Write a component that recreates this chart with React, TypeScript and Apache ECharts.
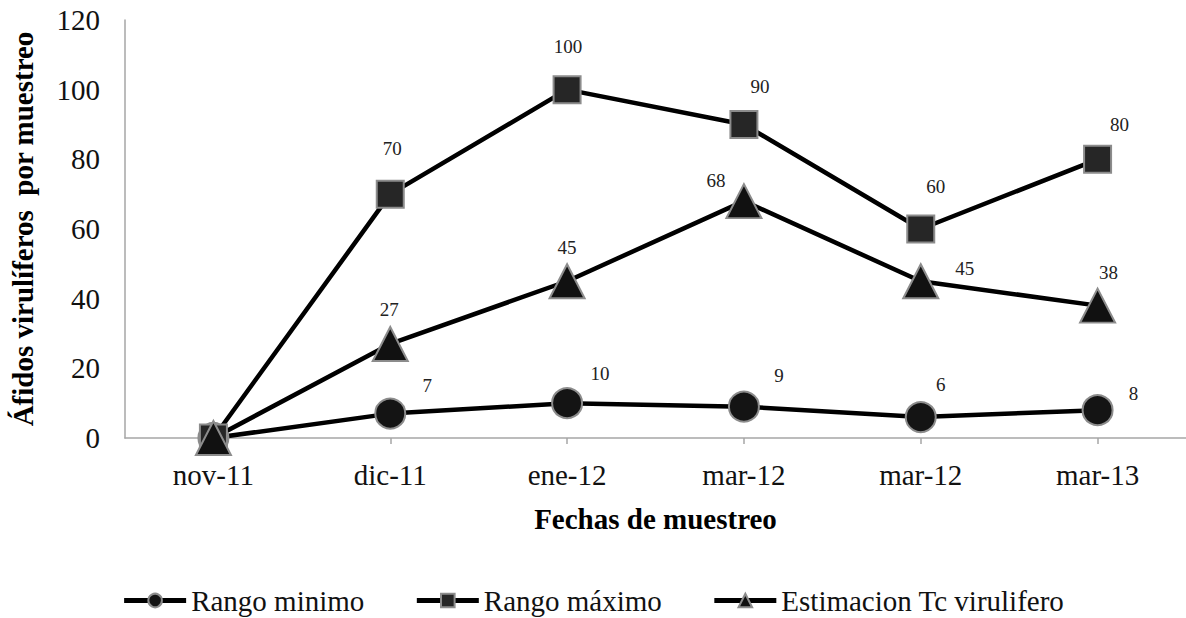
import React, { useEffect, useRef } from "react";
import * as echarts from "echarts";

// Sampling dates (two samplings fall in mar-12)
const fechas = ["nov-11", "dic-11", "ene-12", "mar-12", "mar-12", "mar-13"];

// Aphid counts per sampling
const rangoMinimo = [0, 7, 10, 9, 6, 8];
const rangoMaximo = [0, 70, 100, 90, 60, 80];
const estimacionTc = [0, 27, 45, 68, 45, 38];

// Where each value label sits relative to its marker, in px
const offMinimo: [number, number][] = [[0, 0], [37, -28], [33, -30], [35, -31], [20, -33], [36, -17]];
const offMaximo: [number, number][] = [[0, 0], [2, -46], [1, -43], [16, -38], [15, -43], [22, -35]];
const offEstimacion: [number, number][] = [[0, 0], [-1, -34], [0, -34], [-28, -21], [44, -13], [11, -33]];

const SERIF = "'Liberation Serif', 'Times New Roman', serif";

function withLabels(values: number[], offsets: [number, number][]) {
  return values.map((v, i) => ({
    value: v,
    label: {
      show: i > 0,
      position: "inside",
      offset: offsets[i],
    },
  }));
}

export default function App() {
  const ref = useRef<HTMLDivElement>(null);

  useEffect(() => {
    if (!ref.current) return;
    const chart = echarts.init(ref.current, undefined, { renderer: "svg" });

    const markerBorder = { borderColor: "#8c8c8c", borderWidth: 2 };
    const valueLabel = {
      color: "#222",
      fontFamily: SERIF,
      fontSize: 19,
    };

    chart.setOption({
      animation: false,
      backgroundColor: "#ffffff",
      grid: { left: 122, right: -10, top: 20, bottom: 180, containLabel: false },
      xAxis: {
        type: "category",
        data: fechas,
        boundaryGap: true,
        name: "Fechas de muestreo",
        nameLocation: "middle",
        nameGap: 66,
        nameTextStyle: { fontFamily: SERIF, fontWeight: "bold", fontSize: 29, color: "#000" },
        axisLine: { show: true, lineStyle: { color: "#a6a6a6", width: 1.5 } },
        axisTick: { show: true, alignWithLabel: true, length: 6, lineStyle: { color: "#a6a6a6", width: 1.5 } },
        axisLabel: { fontFamily: SERIF, fontSize: 29, color: "#111", margin: 22 },
        splitLine: { show: false },
      },
      yAxis: {
        type: "value",
        min: 0,
        max: 120,
        interval: 20,
        name: "Áfidos virulíferos  por muestreo",
        nameLocation: "middle",
        nameRotate: 90,
        nameGap: 88,
        nameTextStyle: { fontFamily: SERIF, fontWeight: "bold", fontSize: 29, color: "#000" },
        axisLine: { show: true, lineStyle: { color: "#a6a6a6", width: 1.5 } },
        axisTick: { show: false },
        axisLabel: { fontFamily: SERIF, fontSize: 29, color: "#111", margin: 25 },
        splitLine: { show: false },
      },
      legend: {
        left: "center",
        top: 581,
        itemWidth: 62,
        itemHeight: 17,
        itemGap: 50,
        lineStyle: { width: 5 },
        textStyle: { fontFamily: SERIF, fontSize: 29, color: "#111" },
        data: ["Rango minimo", "Rango máximo", "Estimacion Tc virulifero"],
      },
      series: [
        {
          name: "Rango minimo",
          type: "line",
          data: withLabels(rangoMinimo, offMinimo),
          symbol: "circle",
          symbolSize: 30,
          lineStyle: { color: "#000", width: 4.5 },
          itemStyle: { color: "#141414", ...markerBorder },
          label: valueLabel,
        },
        {
          name: "Rango máximo",
          type: "line",
          data: withLabels(rangoMaximo, offMaximo),
          symbol: "rect",
          symbolSize: 27,
          lineStyle: { color: "#000", width: 4.5 },
          itemStyle: { color: "#262626", ...markerBorder },
          label: valueLabel,
        },
        {
          name: "Estimacion Tc virulifero",
          type: "line",
          data: withLabels(estimacionTc, offEstimacion),
          symbol: "triangle",
          symbolSize: [35, 34],
          lineStyle: { color: "#000", width: 4.5 },
          itemStyle: { color: "#111", ...markerBorder },
          label: valueLabel,
        },
      ],
    });

    return () => chart.dispose();
  }, []);

  return (
    <div
      ref={ref}
      style={{ position: "fixed", left: 0, top: 0, width: 1186, height: 618, background: "#fff" }}
    />
  );
}
